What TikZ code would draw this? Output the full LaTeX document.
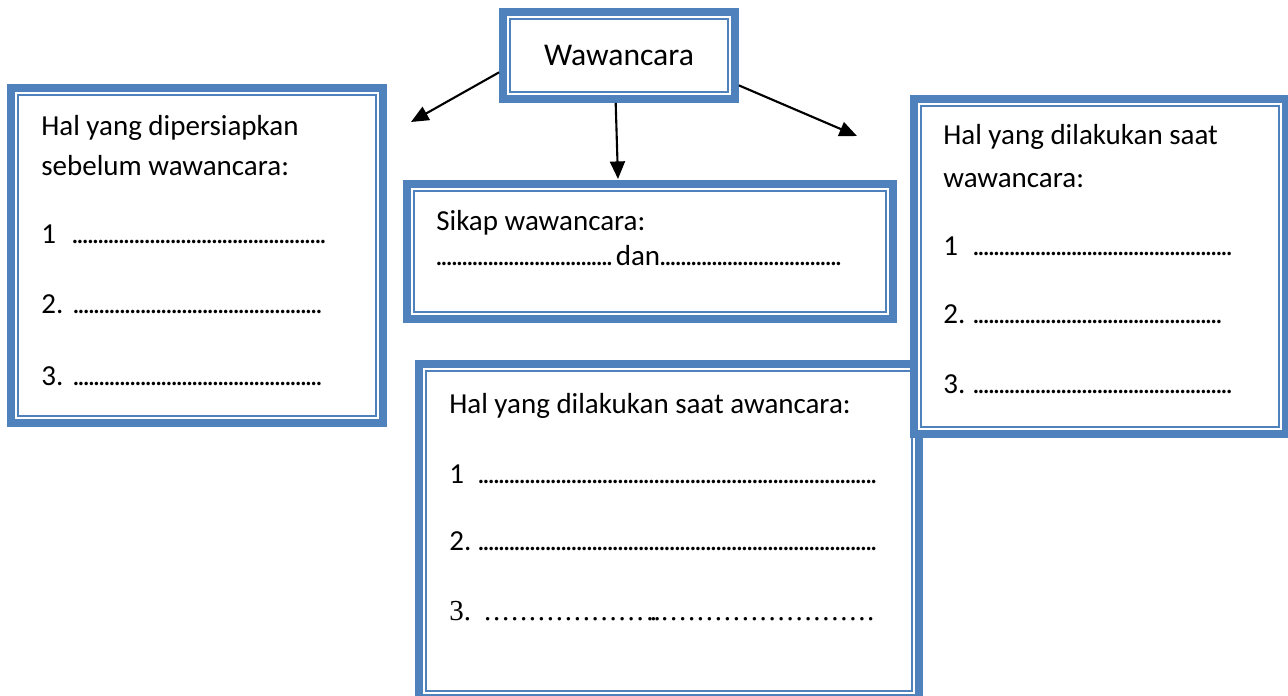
\documentclass[tikz,border=0pt]{standalone}
\usepackage{fontspec}
\setmainfont{Carlito}
\newfontfamily\timesfont{Liberation Serif}
\usetikzlibrary{arrows.meta}

\definecolor{wblue}{RGB}{79,129,189}
% row of dots: [spacing]{width}
\newcommand{\titik}[2][2.95pt]{\hbox to #2{\leaders\hbox to #1{\hss.\hss}\hfill}}

\tikzstyle{frame} = [draw=wblue, line width=4.5pt, fill=white, inner sep=0pt,
	path picture={\draw[wblue, line width=1.4pt] ([shift={(4pt,-4pt)}]path picture bounding box.north west) rectangle ([shift={(-4pt,4pt)}]path picture bounding box.south east);}]
\tikzstyle{txt} = [anchor=base west, inner sep=0pt, font=\fontsize{16.5}{20}\selectfont]
\tikzstyle{arrow} = [line width=1.2pt, -{Triangle[length=10pt,width=8.5pt]}]

\begin{document}
\begin{tikzpicture}[x=0.02cm, y=-0.02cm]
	\useasboundingbox (0,0) rectangle (1288,696);
	\clip (0,0) rectangle (1288,696);

	\node[frame, minimum width=7.44cm, minimum height=6.7cm] (prep) at (197,255.5) {};
	\node[txt] (p1) at (41,135) {Hal yang dipersiapkan};
	\node[txt] (p2) at (41,175) {sebelum wawancara:};
	\node[txt] (p3) at (41,243) {\makebox[0.62cm][l]{1}\titik{5.16cm}};
	\node[txt] (p4) at (41,313) {\makebox[0.64cm][l]{2.}\titik{5.04cm}};
	\node[txt] (p5) at (41,385) {\makebox[0.64cm][l]{3.}\titik{5.08cm}};

	\node[frame, minimum width=4.64cm, minimum height=1.74cm, font=\fontsize{18}{21}\selectfont] (wc) at (619,55.5) {Wawancara};

	\node[frame, minimum width=9.72cm, minimum height=2.7cm] (sikap) at (650,251.5) {};
	\node[txt] (s1) at (436,230) {Sikap wawancara:};
	\node[txt] (s2) at (436,265) {\titik{3.6cm}dan\titik{3.68cm}};

	\node[frame, minimum width=10cm, minimum height=6.68cm] (saat) at (669,531) {};
	\node[txt] (a1) at (449,413) {Hal yang dilakukan saat awancara:};
	\node[txt] (a2) at (449,483) {\makebox[0.58cm][l]{1}\titik{8cm}};
	\node[txt] (a3) at (449,550) {\makebox[0.58cm][l]{2.}\titik{8.02cm}};
	\node[txt] (a4) at (449,620) {\timesfont\makebox[0.68cm][l]{3.}\titik[5.1pt]{3.3cm}\titik[2pt]{0.24cm}\titik[5.1pt]{4.44cm}};

	\node[frame, minimum width=7.44cm, minimum height=6.7cm] (lakukan) at (1100,266.5) {};
	\node[txt] (l1) at (943,145) {Hal yang dilakukan saat};
	\node[txt] (l2) at (943,187) {wawancara:};
	\node[txt] (l3) at (943,255) {\makebox[0.6cm][l]{1}\titik{5.2cm}};
	\node[txt] (l4) at (943,323) {\makebox[0.6cm][l]{2.}\titik{5.04cm}};
	\node[txt] (l5) at (943,393) {\makebox[0.6cm][l]{3.}\titik{5.2cm}};

	\coordinate (al) at (411,122);
	\coordinate (as) at (618,179);
	\coordinate (ar) at (857,136);

	\draw[arrow] (wc.188) -- (al);
	\draw[arrow] (wc.266) -- (as);
	\draw[arrow] (wc.346) -- (ar);
\end{tikzpicture}
\end{document}
